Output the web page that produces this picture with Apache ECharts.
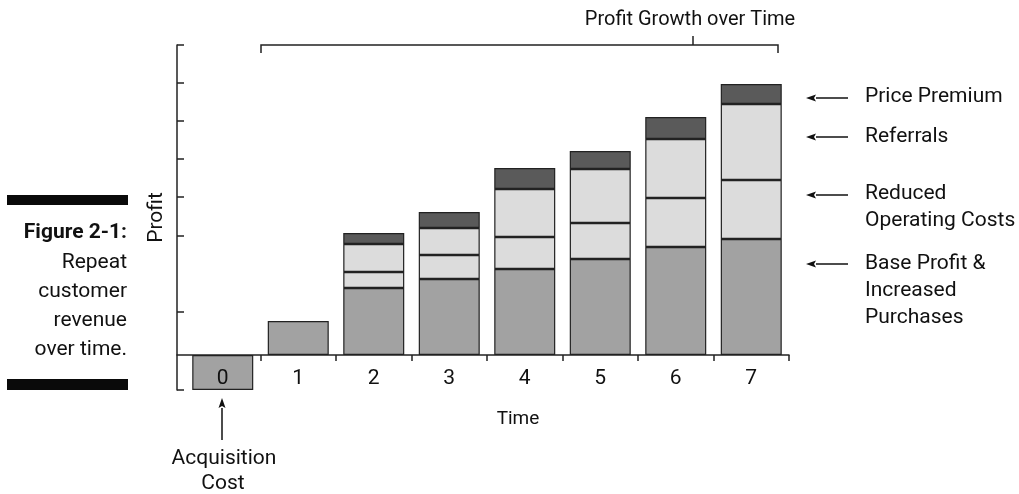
<!DOCTYPE html>
<html>
<head>
<meta charset="utf-8">
<script src="https://cdn.jsdelivr.net/npm/echarts@6/dist/echarts.min.js"></script>
<style>
html,body{margin:0;padding:0;background:#fff;}
#chart{width:1019px;height:494px;}
</style>
</head>
<body>
<div id="chart"></div>
<script>
// ---- data (profit in arbitrary units) ----
const times = ['0', '1', '2', '3', '4', '5', '6', '7'];
const baseProfit = [-35, 34, 67, 76, 86, 96, 108, 116];
const reducedCosts = [null, null, 16, 24, 32, 36, 49, 59];
const referrals = [null, null, 28, 27, 48, 54, 59, 76];
const pricePremium = [null, null, 11, 16, 21, 18, 22, 20];
const yTickValues = [-35, 43, 119, 158, 196, 234, 272, 310];
const xTickValues = [0.5, 1.5, 2.5, 3.5, 4.5, 5.5, 6.5, 7.5];
const seriesNames = ['Base Profit & Increased Purchases', 'Reduced Operating Costs', 'Referrals', 'Price Premium'];

const FONT = 'Roboto, "Noto Sans", sans-serif';
const INK = '#111';
const LINE = '#222';
const Y_MIN = -35, Y_MAX = 310;

function barSeries(name, arr, color) {
  return {
    name: name, type: 'bar', stack: 'profit', barWidth: 61,
    xAxisIndex: 1, yAxisIndex: 1,
    data: arr,
    itemStyle: { color: color, borderColor: LINE, borderWidth: 1.2 },
    emphasis: { disabled: true }, animation: false
  };
}

function arrow(x1, y1, x2, y2) { // tail (x1,y1) -> head (x2,y2)
  const dx = x2 - x1, dy = y2 - y1, len = Math.hypot(dx, dy);
  const ux = dx / len, uy = dy / len, L = 10, W = 3.5;
  const bx = x2 - ux * L, by = y2 - uy * L;
  return [
    { type: 'line', shape: { x1: x1, y1: y1, x2: bx, y2: by }, style: { stroke: INK, lineWidth: 1.5 } },
    { type: 'polygon', shape: { points: [[x2, y2], [bx - uy * W, by + ux * W], [bx + ux * 2, by + uy * 2], [bx + uy * W, by - ux * W]] }, style: { fill: INK } }
  ];
}
function txt(text, x, y, align, size, weight) {
  return { type: 'text', x: x, y: y, style: { text: text, fill: INK, font: (weight || 'normal') + ' ' + (size || 21) + 'px ' + FONT, textAlign: align || 'left', textVerticalAlign: 'middle' } };
}

const graphics = [
  // caption bars
  { type: 'rect', shape: { x: 7, y: 195, width: 121, height: 10 }, style: { fill: '#0a0a0a' } },
  { type: 'rect', shape: { x: 7, y: 379, width: 121, height: 11 }, style: { fill: '#0a0a0a' } },
  txt('Figure 2-1:', 127, 232.5, 'right', 21, 'bold'),
  txt('Repeat', 127, 262.5, 'right'),
  txt('customer', 127, 291.5, 'right'),
  txt('revenue', 127, 320.5, 'right'),
  txt('over time.', 127, 349.5, 'right'),
  // top bracket
  { type: 'polyline', shape: { points: [[261, 53], [261, 45], [778, 45], [778, 53]] }, style: { stroke: LINE, lineWidth: 1.5, fill: null } },
  { type: 'line', shape: { x1: 693, y1: 45, x2: 693, y2: 36 }, style: { stroke: LINE, lineWidth: 1.5 } },
  txt('Profit Growth over Time', 690, 20, 'center', 20),
  // right labels
  txt('Price Premium', 865, 97),
  txt('Referrals', 865, 137),
  txt('Reduced', 865, 194),
  txt('Operating Costs', 865, 221),
  txt('Base Profit &', 865, 264),
  txt('Increased', 865, 291),
  txt('Purchases', 865, 318),
  // axis title and acquisition note
  txt('Time', 518, 419, 'center', 19),
  txt('Acquisition', 224, 459, 'center'),
  txt('Cost', 223, 484, 'center')
].concat(
  arrow(848, 98, 806, 98),
  arrow(848, 137, 806, 137),
  arrow(848, 195, 806, 195),
  arrow(848, 264, 806, 264),
  arrow(222, 440, 222, 398)
);

const chart = echarts.init(document.getElementById('chart'), null, { renderer: 'canvas' });
chart.setOption({
  animation: false,
  backgroundColor: '#fff',
  textStyle: { fontFamily: FONT },
  grid: [
    { left: 177, right: 230, top: 45, bottom: 104, containLabel: false },
    { left: 185, right: 230, top: 45, bottom: 104, containLabel: false }
  ],
  xAxis: [
    { // visible frame axis (line at zero with boundary ticks)
      type: 'value', gridIndex: 0, min: -0.609, max: 7.5, z: 5,
      axisLine: { onZero: true, lineStyle: { color: LINE, width: 1.5 } },
      axisTick: { show: true, inside: false, length: 6, customValues: xTickValues, lineStyle: { color: LINE, width: 1.5 } },
      axisLabel: { show: false },
      splitLine: { show: false }
    },
    { // category axis for the bars and time labels
      type: 'category', gridIndex: 1, data: times, boundaryGap: true, z: 10,
      axisLine: { show: false, onZero: false },
      axisTick: { show: false },
      axisLabel: { fontSize: 21, color: INK, fontFamily: FONT, margin: -22 },
      splitLine: { show: false }
    }
  ],
  yAxis: [
    {
      type: 'value', gridIndex: 0, min: Y_MIN, max: Y_MAX, z: 5,
      name: 'Profit', nameLocation: 'middle', nameRotate: 90, nameGap: 10,
      nameTextStyle: { fontSize: 21, color: INK, fontFamily: FONT },
      axisLine: { show: true, onZero: false, lineStyle: { color: LINE, width: 1.5 } },
      axisTick: { show: true, inside: true, length: 7, customValues: yTickValues, lineStyle: { color: LINE, width: 1.5 } },
      axisLabel: { show: false },
      splitLine: { show: false }
    },
    {
      type: 'value', gridIndex: 1, min: Y_MIN, max: Y_MAX, show: false,
      splitLine: { show: false }
    }
  ],
  series: [
    barSeries(seriesNames[0], baseProfit, '#a2a2a2'),
    barSeries(seriesNames[1], reducedCosts, '#dcdcdc'),
    barSeries(seriesNames[2], referrals, '#dcdcdc'),
    barSeries(seriesNames[3], pricePremium, '#5a5a5a')
  ],
  graphic: graphics
});
</script>
</body>
</html>
